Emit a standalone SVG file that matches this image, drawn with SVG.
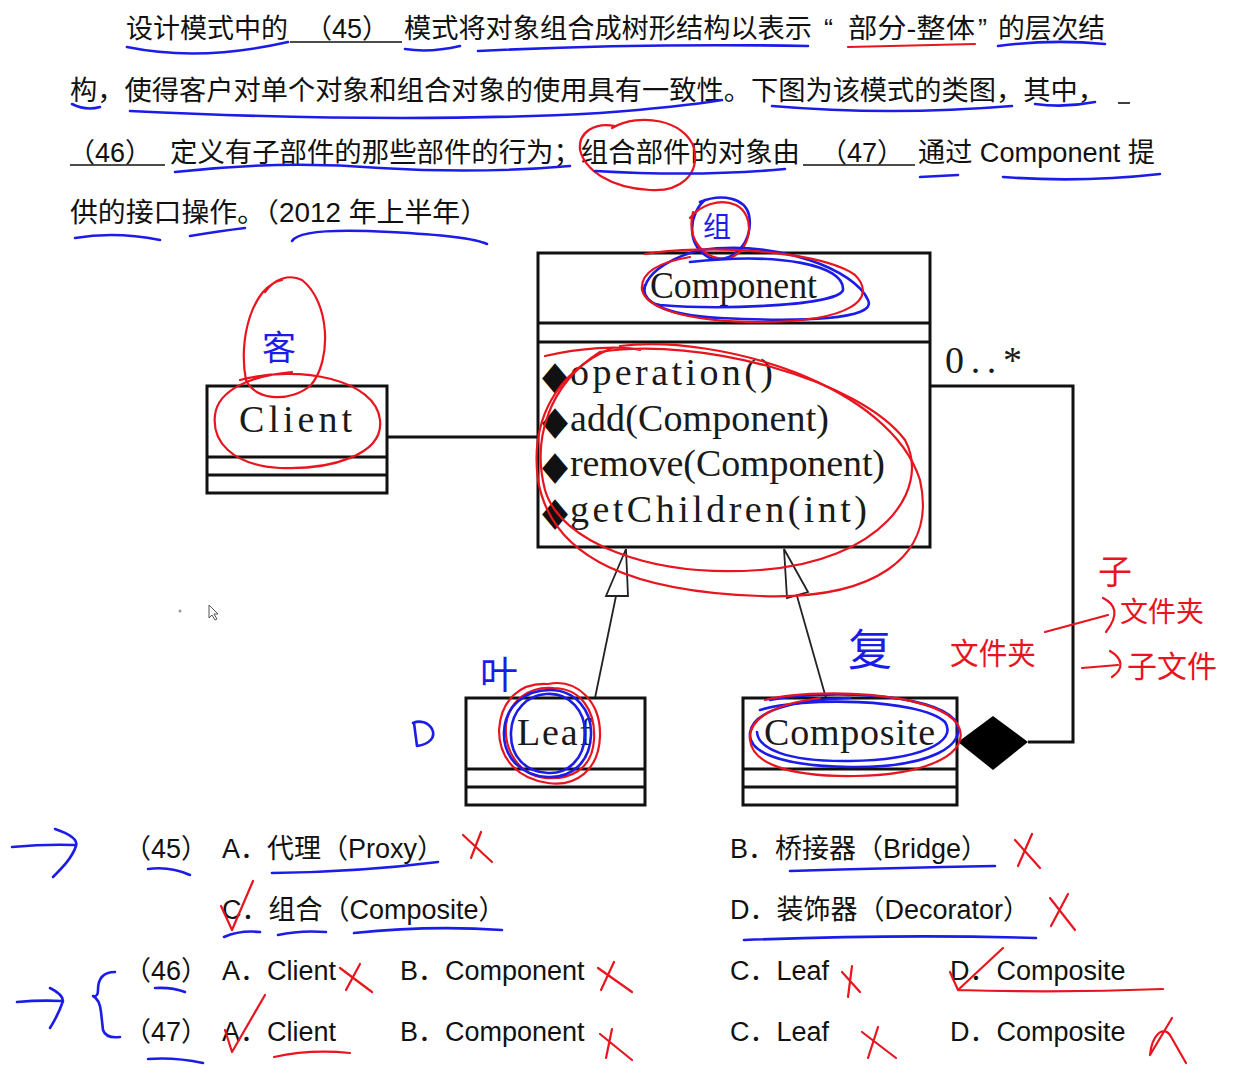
<svg xmlns="http://www.w3.org/2000/svg" width="1255" height="1081" viewBox="0 0 1255 1081">
<style>
.txt{font-family:"Liberation Sans","Noto Sans CJK SC",sans-serif;font-size:27px;fill:#111}
.uml{font-family:"Liberation Serif","DejaVu Serif",serif;font-size:38px;fill:#1a1a1a}
.dia{font-family:"DejaVu Sans",sans-serif;font-size:40px;fill:#111}
.box{fill:#fff;stroke:#111;stroke-width:3}
.sep{stroke:#111;stroke-width:3}
.blank{stroke:#111;stroke-width:1.6}
.conn{fill:none;stroke:#111;stroke-width:3}
.gen{fill:none;stroke:#222;stroke-width:1.8}
.tri{fill:#fff;stroke:#222;stroke-width:1.8}
.b{fill:none;stroke:#1c1ce8;stroke-width:2.6;stroke-linecap:round;stroke-linejoin:round}
.r{fill:none;stroke:#e8141e;stroke-width:2.2;stroke-linecap:round;stroke-linejoin:round}
.hb{font-family:"Noto Sans CJK SC",sans-serif;fill:#1c1ce8}
.hr{font-family:"Noto Sans CJK SC",sans-serif;fill:#e8141e}
</style>
<rect width="1255" height="1081" fill="#fff"/>

<g id="question">
<text class="txt" x="126" y="38" textLength="162" lengthAdjust="spacingAndGlyphs">设计模式中的</text>
<line class="blank" x1="290" y1="42" x2="402" y2="42"/>
<text class="txt" x="305" y="38">（45）</text>
<text class="txt" x="404" y="38" textLength="408" lengthAdjust="spacingAndGlyphs">模式将对象组合成树形结构以表示</text>
<text class="txt" x="824" y="38">“</text>
<text class="txt" x="848" y="38" textLength="127" lengthAdjust="spacingAndGlyphs">部分-整体</text>
<text class="txt" x="978" y="38">”</text>
<text class="txt" x="998" y="38" textLength="107" lengthAdjust="spacingAndGlyphs">的层次结</text>
<text class="txt" x="70" y="100" textLength="1035" lengthAdjust="spacingAndGlyphs">构，使得客户对单个对象和组合对象的使用具有一致性。下图为该模式的类图，其中，</text>
<line class="blank" x1="1118" y1="103" x2="1130" y2="103"/>
<line class="blank" x1="70" y1="165" x2="165" y2="165"/>
<text class="txt" x="68" y="162">（46）</text>
<text class="txt" x="170" y="162" textLength="630" lengthAdjust="spacingAndGlyphs">定义有子部件的那些部件的行为；组合部件的对象由</text>
<line class="blank" x1="803" y1="165" x2="915" y2="165"/>
<text class="txt" x="820" y="162">（47）</text>
<text class="txt" x="918" y="162" textLength="237" lengthAdjust="spacingAndGlyphs">通过 Component 提</text>
<text class="txt" x="70" y="222" textLength="418" lengthAdjust="spacingAndGlyphs">供的接口操作。（2012 年上半年）</text>
</g>

<g id="connectors">
<line class="conn" x1="387" y1="437" x2="538" y2="437"/>
<path class="conn" d="M1028,742 H1073 V386 H930"/>
<polygon points="958,742 993,716 1028,742 993,770" fill="#000"/>
<line class="gen" x1="595" y1="698" x2="616" y2="596"/>
<polygon class="tri" points="626,549 606,596 628,596"/>
<line class="gen" x1="826" y1="698" x2="797" y2="596"/>
<polygon class="tri" points="784,549 787,598 808,592"/>
<text class="uml" x="945" y="373" textLength="77" lengthAdjust="spacing">0..*</text>
</g>

<g id="node-component">
<rect class="box" x="538" y="253" width="392" height="294"/>
<line class="sep" x1="538" y1="323" x2="930" y2="323"/>
<line class="sep" x1="538" y1="342" x2="930" y2="342"/>
<text class="uml" x="650" y="298" textLength="167" lengthAdjust="spacingAndGlyphs">Component</text>
<text class="dia" x="542" y="389" textLength="26" lengthAdjust="spacingAndGlyphs">◆</text>
<text class="uml" x="570" y="385" textLength="203" lengthAdjust="spacing">operation()</text>
<text class="dia" x="542" y="434" textLength="26" lengthAdjust="spacingAndGlyphs">◆</text>
<text class="uml" x="570" y="431" textLength="259" lengthAdjust="spacing">add(Component)</text>
<text class="dia" x="542" y="479" textLength="26" lengthAdjust="spacingAndGlyphs">◆</text>
<text class="uml" x="570" y="476" textLength="315" lengthAdjust="spacing">remove(Component)</text>
<text class="dia" x="542" y="525" textLength="26" lengthAdjust="spacingAndGlyphs">◆</text>
<text class="uml" x="570" y="522" textLength="297" lengthAdjust="spacing">getChildren(int)</text>
</g>

<g id="node-client">
<rect class="box" x="207" y="386" width="180" height="107"/>
<line class="sep" x1="207" y1="457" x2="387" y2="457"/>
<line class="sep" x1="207" y1="475" x2="387" y2="475"/>
<text class="uml" x="239" y="432" textLength="113" lengthAdjust="spacing">Client</text>
</g>

<g id="node-leaf">
<rect class="box" x="466" y="698" width="179" height="107"/>
<line class="sep" x1="466" y1="769" x2="645" y2="769"/>
<line class="sep" x1="466" y1="787" x2="645" y2="787"/>
<text class="uml" x="517" y="745" textLength="75" lengthAdjust="spacing">Leaf</text>
</g>

<g id="node-composite">
<rect class="box" x="743" y="698" width="214" height="107"/>
<line class="sep" x1="743" y1="769" x2="957" y2="769"/>
<line class="sep" x1="743" y1="787" x2="957" y2="787"/>
<text class="uml" x="764" y="745" textLength="171" lengthAdjust="spacing">Composite</text>
</g>

<g id="options">
<text class="txt" x="124" y="858">（45）</text>
<text class="txt" x="222" y="858">A．代理（Proxy）</text>
<text class="txt" x="730" y="858">B．桥接器（Bridge）</text>
<text class="txt" x="222" y="919">C．组合（Composite）</text>
<text class="txt" x="730" y="919">D．装饰器（Decorator）</text>
<text class="txt" x="124" y="980">（46）</text>
<text class="txt" x="222" y="980">A．Client</text>
<text class="txt" x="400" y="980">B．Component</text>
<text class="txt" x="730" y="980">C．Leaf</text>
<text class="txt" x="950" y="980">D．Composite</text>
<text class="txt" x="124" y="1041">（47）</text>
<text class="txt" x="222" y="1041">A．Client</text>
<text class="txt" x="400" y="1041">B．Component</text>
<text class="txt" x="730" y="1041">C．Leaf</text>
<text class="txt" x="950" y="1041">D．Composite</text>
</g>

<g id="annotations">
<path class="b" d="M127,47 Q200,62 288,42"/>
<path class="b" d="M405,49 Q430,53 460,46"/>
<path class="b" d="M478,51 Q640,43 808,46"/>
<path class="r" d="M848,47 L975,44"/>
<path class="b" d="M998,46 Q1050,39 1105,44"/>
<path class="b" d="M72,104 Q86,111 100,107"/>
<path class="b" d="M130,111 Q400,124 600,113 Q680,107 722,100"/>
<path class="b" d="M772,106 Q890,116 1012,106"/>
<path class="b" d="M1035,104 Q1065,108 1095,102"/>
<path class="b" d="M175,172 Q280,160 380,168 Q480,174 570,166"/>
<path class="r" d="M612,128 C640,112 685,120 694,148 C700,175 680,192 650,190 C610,188 585,170 580,150 C578,132 595,122 615,126"/>
<path class="b" d="M595,171 Q700,177 785,169"/>
<path class="b" d="M920,177 L958,175"/>
<path class="b" d="M1003,177 Q1080,183 1160,174"/>
<path class="b" d="M75,238 Q115,231 160,240"/>
<path class="b" d="M190,236 Q220,231 245,228"/>
<path class="b" d="M292,241 Q300,227 390,232 Q470,236 487,244"/>

<path class="b" d="M705,200 C690,212 684,245 710,258 C735,264 754,240 749,215 C745,198 722,193 700,202"/>
<path class="r" d="M693,212 C686,240 705,262 730,258 C752,250 756,215 736,205 C720,198 700,205 690,218"/>
<text class="hb" x="703" y="237" font-size="28">组</text>
<path class="b" d="M690,262 C780,252 845,265 843,290 C838,306 720,310 660,305 C632,300 640,266 700,250 C780,240 855,270 868,300 C878,320 800,322 720,318 C660,315 640,300 645,285"/>
<path class="r" d="M645,254 C700,244 820,250 855,275 C878,298 852,322 760,322 C680,322 646,306 642,290 C640,272 660,262 690,257"/>
<path class="r" d="M545,356 C580,348 620,345 640,350 M600,352 C700,336 860,380 905,440 C932,490 880,562 760,570 C650,578 560,542 545,490 C532,440 548,385 600,352"/>
<path class="r" d="M620,346 C720,334 890,385 920,480 C938,560 870,600 760,596 C640,592 552,562 538,480 C530,420 556,372 612,348"/>

<path class="r" d="M282,280 C252,286 238,340 246,380 C256,402 292,402 311,385 C332,360 330,302 302,280 C290,274 275,278 265,292"/>
<text class="hb" x="262" y="360" font-size="34">客</text>
<path class="r" d="M240,380 C300,364 376,380 380,420 C384,455 330,470 280,468 C230,465 212,440 215,415 C218,390 250,376 292,372"/>

<text class="hb" x="480" y="688" font-size="38">叶</text>
<path class="b" d="M414,723 L417,746 C430,744 436,737 432,729 C428,722 420,720 413,723"/>
<path class="r" d="M548,684 C577,678 601,702 600,736 C599,771 575,787 548,783 C519,779 499,760 499,730 C501,700 520,682 548,684"/>
<path class="r" d="M553,688 C580,688 596,710 594,740 C592,770 570,780 545,778 C520,775 504,752 506,725 C509,700 530,686 553,688"/>
<path class="b" d="M550,690 C575,690 592,710 591,735 C590,762 572,778 548,777 C522,776 503,758 504,732 C505,706 525,690 550,690 Z"/>
<path class="b" d="M546,694 C570,692 586,712 585,735 C584,760 567,774 548,773 C525,772 510,756 511,732 C512,710 528,695 546,694"/>

<text class="hb" x="848" y="666" font-size="44">复</text>
<path class="b" d="M770,700 C820,690 930,692 955,720 C970,745 930,768 850,767 C780,766 748,752 750,733 C752,712 790,700 850,698"/>
<path class="b" d="M760,710 C800,697 920,698 945,722 C958,742 920,760 850,761 C785,762 758,748 757,732"/>
<path class="r" d="M765,700 C810,688 935,690 958,725 C972,752 930,775 855,776 C785,777 752,762 750,740 C748,718 775,704 820,698"/>

<text class="hr" x="950" y="664" font-size="30" textLength="86" lengthAdjust="spacingAndGlyphs">文件夹</text>
<path class="r" d="M1045,632 L1108,615"/>
<text class="hr" x="1098" y="584" font-size="34">子</text>
<path class="r" d="M1103,598 C1115,604 1120,614 1106,632"/>
<text class="hr" x="1120" y="622" font-size="28" textLength="84" lengthAdjust="spacingAndGlyphs">文件夹</text>
<path class="r" d="M1082,668 L1118,665 M1110,651 C1122,658 1125,668 1112,677"/>
<text class="hr" x="1127" y="677" font-size="30" textLength="90" lengthAdjust="spacingAndGlyphs">子文件</text>

<circle cx="180" cy="611" r="1.5" fill="#999"/>
<path d="M209,605 L209,618 L212,615 L215,620 L217,619 L214,614 L218,614 Z" fill="#fff" stroke="#555" stroke-width="1"/>

<path class="b" d="M12,847 Q45,844 74,845 M55,829 C70,834 78,840 76,846 C72,858 62,868 53,877"/>
<path class="b" d="M148,869 Q170,866 190,875"/>
<path class="b" d="M272,873 Q360,872 438,862"/>
<path class="r" d="M463,835 L492,862 M481,832 L471,858"/>
<path class="b" d="M790,871 Q890,868 995,866"/>
<path class="r" d="M1015,840 L1040,868 M1032,834 L1018,866"/>
<path class="r" d="M221,906 L232,930 L253,881"/>
<path class="b" d="M224,937 Q240,930 260,932"/>
<path class="b" d="M278,935 Q300,930 326,932"/>
<path class="b" d="M354,933 Q430,925 502,930"/>
<path class="r" d="M1050,898 L1075,930 M1068,894 L1051,926"/>
<path class="b" d="M744,940 Q900,934 1036,938"/>
<path class="b" d="M17,1002 Q40,1000 62,1001 M50,988 C58,992 63,996 63,1001 C60,1010 55,1020 50,1028"/>
<path class="b" d="M115,972 C104,972 98,978 98,990 C98,995 96,997 93,996 C97,998 100,1002 101,1012 L103,1030 C105,1036 112,1038 120,1037"/>
<path class="b" d="M155,988 Q172,987 185,992"/>
<path class="b" d="M148,1059 Q175,1057 203,1063"/>
<path class="r" d="M340,968 L372,992 M360,964 L346,990"/>
<path class="r" d="M598,968 L632,992 M614,962 L601,990"/>
<path class="r" d="M842,972 L860,992 M852,966 L848,997"/>
<path class="r" d="M950,972 L958,990 L1003,948 M958,990 Q1060,993 1163,989"/>
<path class="r" d="M225,1030 L232,1052 L265,995"/>
<path class="r" d="M274,1057 Q310,1049 350,1053"/>
<path class="r" d="M600,1034 L632,1060 M612,1029 L606,1058"/>
<path class="r" d="M862,1032 L896,1058 M878,1027 L868,1058"/>
<path class="r" d="M1172,1018 L1150,1055 C1152,1035 1163,1025 1170,1035 L1186,1063"/>
</g>
</svg>
